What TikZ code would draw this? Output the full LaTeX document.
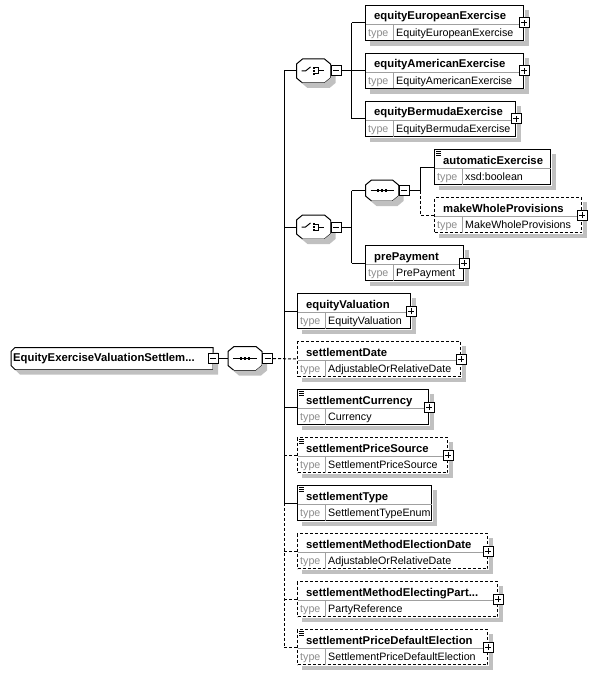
\documentclass[tikz,border=0pt]{standalone}
\usepackage{fontspec}
\setmainfont{Liberation Sans}
\usetikzlibrary{positioning}
\definecolor{shadowgray}{RGB}{192,192,192}
\definecolor{linegray}{RGB}{160,160,160}
\definecolor{typegray}{RGB}{140,140,140}

\tikzstyle{line} = [draw, line width=1pt]
\tikzstyle{optline} = [line, dash pattern=on 3pt off 2pt]
\tikzstyle{compbox} = [draw, line width=1pt, fill=white]
\tikzstyle{elembox} = [draw, line width=1pt, fill=white, minimum height=35pt, inner sep=0, anchor=north west]
\tikzstyle{optbox} = [dash pattern=on 3pt off 2pt]
\tikzstyle{comp} = [minimum width=34pt, minimum height=24pt, inner sep=0, outer sep=0]
\tikzstyle{minusbox} = [draw, line width=1pt, fill=white, minimum size=10pt, inner sep=0,
  path picture={\draw[line width=1pt] ([xshift=2pt]path picture bounding box.west) -- ([xshift=-2pt]path picture bounding box.east);}]
\tikzstyle{plusbox} = [draw, line width=1pt, fill=white, minimum size=10pt, inner sep=0,
  path picture={\draw[line width=1pt] ([xshift=2pt]path picture bounding box.west) -- ([xshift=-2pt]path picture bounding box.east);
    \draw[line width=1pt] ([yshift=2pt]path picture bounding box.south) -- ([yshift=-2pt]path picture bounding box.north);}]
\tikzstyle{ename} = [font=\fontsize{11.3}{13}\selectfont\bfseries, inner sep=0, anchor=base west]
\tikzstyle{etype} = [font=\fontsize{10.7}{13}\selectfont, inner sep=0, anchor=base west]

% element box: [style] name, x, y, width, label, type
\newcommand{\element}[7][]{%
  \node[elembox, #1, minimum width=#5pt] (#2) at (#3,#4) {};
  \fill[shadowgray] ([xshift=0.5pt,yshift=-5pt]#2.north east) rectangle ([shift={(5pt,-5pt)}]#2.south east);
  \fill[shadowgray] ([shift={(5pt,-0.5pt)}]#2.south west) rectangle ([shift={(0.5pt,-5pt)}]#2.south east);
  \draw[linegray, line width=1pt] ([xshift=0.5pt,yshift=-19.5pt]#2.north west) -- ([xshift=-0.5pt,yshift=-19.5pt]#2.north east);
  \draw[linegray, line width=1pt] ([xshift=28pt,yshift=-20pt]#2.north west) -- ([xshift=28pt,yshift=0.5pt]#2.south west);
  \node[ename] (#2-n) at ([xshift=9pt,yshift=-15pt]#2.north west) {#6};
  \node[etype, typegray] (#2-t) at ([xshift=3pt,yshift=-31.5pt]#2.north west) {type};
  \node[etype] (#2-v) at ([xshift=31pt,yshift=-31.5pt]#2.north west) {#7};
}
\newcommand{\expand}[1]{\node[plusbox] (#1-p) at ([yshift=-18pt]#1.north east) {};}
\newcommand{\simple}[1]{%
  \foreach \d in {2.5,4.5,6.5}
    \draw[line width=0.8pt] ([xshift=2pt,yshift=-\d pt]#1.north west) -- ++(5,0);
}
% octagon round a compositor node, with its shadow outside it
\newcommand{\octagon}[1]{%
  \coordinate (#1-1) at ([xshift=6pt]#1.north west);
  \coordinate (#1-2) at ([xshift=-6pt]#1.north east);
  \coordinate (#1-3) at ([yshift=-5pt]#1.north east);
  \coordinate (#1-4) at ([yshift=5pt]#1.south east);
  \coordinate (#1-5) at ([xshift=-6pt]#1.south east);
  \coordinate (#1-6) at ([xshift=6pt]#1.south west);
  \coordinate (#1-7) at ([yshift=5pt]#1.south west);
  \coordinate (#1-8) at ([yshift=-5pt]#1.north west);
  \path[compbox] (#1-1) -- (#1-2) -- (#1-3) -- (#1-4) -- (#1-5) -- (#1-6) -- (#1-7) -- (#1-8) -- cycle;
  \begin{scope}
    \clip (0,0) -- (0,674) -- (595,674) -- (595,0) -- cycle
      (#1-1) -- (#1-2) -- (#1-3) -- (#1-4) -- (#1-5) -- (#1-6) -- (#1-7) -- (#1-8) -- cycle;
    \fill[shadowgray] ([shift={(5pt,-5pt)}]#1-1) -- ([shift={(5pt,-5pt)}]#1-2) -- ([shift={(5pt,-5pt)}]#1-3)
      -- ([shift={(5pt,-5pt)}]#1-4) -- ([shift={(5pt,-5pt)}]#1-5) -- ([shift={(5pt,-5pt)}]#1-6)
      -- ([shift={(5pt,-5pt)}]#1-7) -- ([shift={(5pt,-5pt)}]#1-8) -- cycle;
  \end{scope}
}
\newcommand{\seqicon}[1]{%
  \draw[line] ([xshift=5pt]#1.west) -- ([xshift=-5pt]#1.east);
  \foreach \d in {-4,0,4}
    \fill ([xshift=\d pt]#1.center) +(-1.4,-1.4) rectangle +(1.4,1.4);
}
\newcommand{\choiceicon}[1]{%
  \draw[line width=1pt] (#1.center) +(-12,0) -- +(-8,0) -- +(-3,-4);
  \foreach \d in {-3,0,3}
    \fill (#1.center) +(-1,\d-1) rectangle +(1,\d+1);
  \draw[line width=1pt] (#1.center) +(1.5,-3) -- +(5,-3) -- +(5,3) -- +(1.5,3);
  \draw[line width=1pt] (#1.center) +(5,0) -- +(10,0);
}

\begin{document}
\begin{tikzpicture}[x=1pt, y=-1pt]
	\useasboundingbox (0,0) rectangle (595,674);

	% root and main sequence
	\node[comp, minimum width=202pt, minimum height=22pt] (root) at (112,358.5) {};
	\coordinate (root-1) at ([xshift=4pt]root.north west);
	\coordinate (root-2) at ([yshift=-4pt]root.north west);
	\coordinate (root-3) at ([yshift=4pt]root.south west);
	\coordinate (root-4) at ([xshift=4pt]root.south west);
	\path[compbox] (root-1) -- (root.north east) -- (root.south east) -- (root-4) -- (root-3) -- (root-2) -- cycle;
	\begin{scope}
		\clip (0,0) -- (0,674) -- (595,674) -- (595,0) -- cycle
			(root-1) -- (root.north east) -- (root.south east) -- (root-4) -- (root-3) -- (root-2) -- cycle;
		\fill[shadowgray] ([shift={(5pt,-5pt)}]root-1) -- ([shift={(5pt,-5pt)}]root.north east) -- ([shift={(5pt,-5pt)}]root.south east)
			-- ([shift={(5pt,-5pt)}]root-4) -- ([shift={(5pt,-5pt)}]root-3) -- ([shift={(5pt,-5pt)}]root-2) -- cycle;
	\end{scope}
	\node[ename, anchor=west] (root-n) at ([xshift=2pt]root.west) {EquityExerciseValuationSettlem...};
	\node[minusbox] (root-m) at (root.east) {};
	\node[comp] (seq0) at (245,358.5) {};
	\octagon{seq0}
	\seqicon{seq0}
	\node[minusbox] (seq0-m) [right=0pt of seq0] {};
	\path (seq0-m.east) -- ++(11,0) coordinate (j0);
	\draw[line] (root-m.east) -- (seq0.west);

	% first choice
	\node[comp] (ch1) at (313.5,71) {};
	\octagon{ch1}
	\choiceicon{ch1}
	\node[minusbox] (ch1-m) [right=0pt of ch1] {};
	\element{eEE}{365}{5}{158}{equityEuropeanExercise}{EquityEuropeanExercise}
	\expand{eEE}
	\element{eAE}{365}{53}{158}{equityAmericanExercise}{EquityAmericanExercise}
	\expand{eAE}
	\element{eBE}{365}{101}{150}{equityBermudaExercise}{EquityBermudaExercise}
	\expand{eBE}

	% second choice
	\node[comp] (ch2) at (313.5,227) {};
	\octagon{ch2}
	\choiceicon{ch2}
	\node[minusbox] (ch2-m) [right=0pt of ch2] {};
	\node[comp, minimum width=33pt, minimum height=21pt] (seq1) at (382,190.5) {};
	\octagon{seq1}
	\seqicon{seq1}
	\node[minusbox] (seq1-m) [right=0pt of seq1] {};
	\element{autoEx}{434}{149}{116}{automaticExercise}{xsd:boolean}
	\simple{autoEx}
	\element[optbox]{mWP}{434}{197}{147}{makeWholeProvisions}{MakeWholeProvisions}
	\expand{mWP}
	\element{prePay}{365}{245}{98}{prePayment}{PrePayment}
	\expand{prePay}

	% sequence children
	\element{eV}{297}{293}{113}{equityValuation}{EquityValuation}
	\expand{eV}
	\element[optbox]{sD}{297}{341}{163}{settlementDate}{AdjustableOrRelativeDate}
	\expand{sD}
	\element{sC}{297}{389}{131}{settlementCurrency}{Currency}
	\simple{sC}
	\expand{sC}
	\element[optbox]{sPS}{297}{437}{150}{settlementPriceSource}{SettlementPriceSource}
	\simple{sPS}
	\expand{sPS}
	\element{sT}{297}{485}{134}{settlementType}{SettlementTypeEnum}
	\simple{sT}
	\element[optbox]{sMED}{297}{533}{190}{settlementMethodElectionDate}{AdjustableOrRelativeDate}
	\expand{sMED}
	\element[optbox]{sMEP}{297}{581}{200}{settlementMethodElectingPart...}{PartyReference}
	\expand{sMEP}
	\element[optbox]{sPDE}{297}{629}{190}{settlementPriceDefaultElection}{SettlementPriceDefaultElection}
	\simple{sPDE}
	\expand{sPDE}

	% connectors
	\draw[line] (ch1-m.east) -- ++(10,0) coordinate (j1);
	\draw[line] (j1 |- eEE.west) -- (j1 |- eBE.west);
	\foreach \n in {eEE,eAE,eBE}
		\draw[line] (j1 |- \n.west) -- (\n.west);

	\draw[line] (ch2-m.east) -- ++(10,0) coordinate (j2);
	\draw[line] (j2 |- seq1.west) -- (j2 |- prePay.west);
	\draw[line] (j2 |- seq1.west) -- (seq1.west);
	\draw[line] (j2 |- prePay.west) -- (prePay.west);

	\draw[line] (seq1-m.east) -- ++(11,0) coordinate (j3);
	\draw[line] (j3 |- autoEx.west) -- (j3);
	\draw[line] (j3 |- autoEx.west) -- (autoEx.west);
	\draw[optline] (j3) -- (j3 |- mWP.west) -- (mWP.west);

	\draw[optline] (seq0-m.east) -- (sD.west);
	\draw[line] (j0 |- ch1.west) -- (j0 |- sT.west);
	\draw[optline] (j0 |- sT.west) -- (j0 |- sPDE.west);
	\foreach \n in {ch1,ch2,eV,sC,sT}
		\draw[line] (j0 |- \n.west) -- (\n.west);
	\foreach \n in {sPS,sMED,sMEP,sPDE}
		\draw[optline] (j0 |- \n.west) -- (\n.west);
\end{tikzpicture}
\end{document}
